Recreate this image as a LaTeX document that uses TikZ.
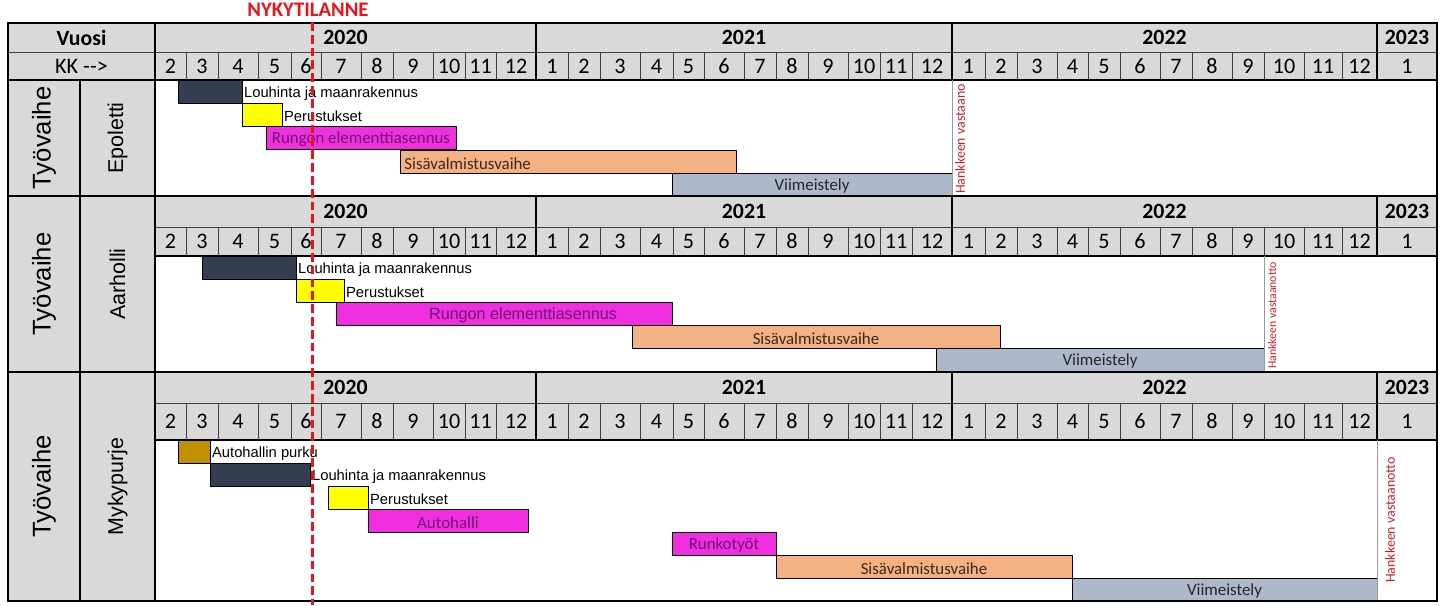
\documentclass[tikz,border=0pt]{standalone}
\usepackage{fontspec}
\setmainfont{Carlito}
\newfontfamily\arialfont{Liberation Sans}
\usetikzlibrary{positioning}
\definecolor{harmaaotsikko}{HTML}{D9D9D9}
\definecolor{tummasini}{HTML}{333F50}
\definecolor{keltainen}{HTML}{FFFF00}
\definecolor{pinkki}{HTML}{F030E0}
\definecolor{purppura}{HTML}{6E1470}
\definecolor{lohi}{HTML}{F4B183}
\definecolor{ruskea}{HTML}{3A2A1F}
\definecolor{siniharmaa}{HTML}{ADB9CA}
\definecolor{kulta}{HTML}{BF9000}
\definecolor{punainen}{HTML}{E8141C}
\definecolor{tummapunainen}{HTML}{C8202C}
\tikzset{
  kehys/.style={line width=1.4pt, black},
  ohut/.style={line width=0.5pt, black!75},
  vuosiTeksti/.style={font=\fontsize{12.4}{13}\selectfont\bfseries, inner sep=0pt},
  kkTeksti/.style={font=\fontsize{12.6}{13}\selectfont, inner sep=0pt},
  palkki/.style={draw=black, line width=0.5pt, inner sep=0pt, outer sep=0pt,
    anchor=north west, minimum height=0.46cm},
  palkkiTeksti/.style={font=\fontsize{9.6}{10}\selectfont, text=black!85, inner sep=0pt,
    yshift=-1.1pt},
  selite/.style={font=\arialfont\fontsize{8.4}{9}\selectfont, anchor=west, inner sep=0pt,
    yshift=-1.1pt},
  vaiheTeksti/.style={font=\arialfont\fontsize{14.6}{15}\selectfont, rotate=90, inner sep=0pt},
  kohdeTeksti/.style={font=\arialfont\fontsize{12.2}{13}\selectfont, rotate=90, inner sep=0pt},
  vastaanotto/.style={font=\fontsize{7.9}{8}\selectfont, text=tummapunainen, rotate=90,
    anchor=west, inner sep=0pt},
  nykyhetki/.style={punainen, line width=1.7pt, dash pattern=on 5pt off 2.3pt},
}
% kuukausisarakkeiden rajat (px)
\newcommand{\kuukaudet}{155/186/2,186/218/3,218/258/4,258/291/5,291/321/6,321/361/7,
  361/393/8,393/433/9,433/465/10,465/496/11,496/536/12,536/568/1,568/600/2,600/640/3,
  640/673/4,673/704/5,704/744/6,744/776/7,776/808/8,808/848/9,848/880/10,880/912/11,
  912/952/12,952/985/1,985/1017/2,1017/1057/3,1057/1088/4,1088/1120/5,1120/1160/6,
  1160/1192/7,1192/1232/8,1232/1264/9,1264/1304/10,1304/1342/11,1342/1377/12,1377/1437/1}
% aikajanan otsikko: #1 etuliite, #2 yla, #3 vali, #4 ala
\newcommand{\aikajana}[4]{%
  \fill[harmaaotsikko] (155,#2) rectangle (1437,#4);
  \foreach \xa/\xb/\m [count=\i] in \kuukaudet {
    \draw[ohut] (\xb,#3) -- (\xb,#4);
    \node[kkTeksti] (#1kk\i) at ({(\xa+\xb)/2},{(#3+#4)/2}) {\m};
  }
  \foreach \xa/\xb/\v in {155/536/2020, 536/952/2021, 952/1377/2022, 1377/1437/2023} {
    \node[vuosiTeksti] (#1v\v) at ({(\xa+\xb)/2},{(#2+#3)/2}) {\v};
    \draw[kehys] (\xb,#2) -- (\xb,#4);
  }
  \draw[ohut] (155,#3) -- (1437,#3);
  \draw[kehys] (155,#4) -- (1437,#4);
}
\begin{document}
\begin{tikzpicture}[x=0.02cm, y=-0.02cm]
  \useasboundingbox (0,0) rectangle (1442,605);
  \fill[white] (0,0) rectangle (1442,605);
  \fill[harmaaotsikko] (8,23) rectangle (155,601);

  \aikajana{ep}{23}{52}{80}
  \aikajana{aa}{196}{227}{256}
  \aikajana{my}{372}{403}{440}

  \node[vuosiTeksti] (vuosi) at (81.5,37.5) {Vuosi};
  \node[kkTeksti] (kk) at (81.5,66) {KK -{}->};

  \foreach \y/\nimi/\kohde in {138/ep/Epoletti, 284/aa/Aarholli, 486.5/my/Mykypurje} {
    \node[vaiheTeksti] (\nimi Vaihe) at (44,\y) {Työvaihe};
    \node[kohdeTeksti] (\nimi Kohde) at (117.5,\y) {\kohde};
  }

  % palkit
  \foreach \nimi/\xa/\xb/\ya/\vari in {
      epLouhinta/178/242/80/tummasini, epPerustus/242/282/103/keltainen,
      epRunko/266/456/126/pinkki, epSisa/400/736/150/lohi, epViim/672/952/173/siniharmaa,
      aaLouhinta/202/296/256/tummasini, aaPerustus/296/344/279/keltainen,
      aaRunko/336/672/302/pinkki, aaSisa/632/1000/325/lohi, aaViim/936/1264/348/siniharmaa,
      myPurku/178/210/440/kulta, myLouhinta/210/310/463/tummasini,
      myPerustus/328/368/486/keltainen, myAutohalli/368/528/509/pinkki,
      myRunko/672/776/532/pinkki, mySisa/776/1072/555/lohi, myViim/1072/1377/578/siniharmaa}{
    \node[palkki, fill=\vari, minimum width={(\xb-\xa)*0.02cm}] (\nimi) at (\xa,\ya) {};
  }

  % Epoletti
  \node[selite, right=1pt of epLouhinta] (epLouhintaT) {Louhinta ja maanrakennus};
  \node[selite, right=1pt of epPerustus] (epPerustusT) {Perustukset};
  \node[palkkiTeksti, text=purppura] (epRunkoT) at (epRunko) {Rungon elementtiasennus};
  \node[palkkiTeksti, text=ruskea, anchor=west] (epSisaT) at ([xshift=2.3pt]epSisa.west) {Sisävalmistusvaihe};
  \node[palkkiTeksti] (epViimT) at (epViim) {Viimeistely};
  \draw[ohut, black!40] (952,80) -- (952,196);
  \node[vastaanotto] (epVastaanotto) at (960,194) {Hankkeen vastaano};

  % Aarholli
  \node[selite, right=1pt of aaLouhinta] (aaLouhintaT) {Louhinta ja maanrakennus};
  \node[selite, right=1pt of aaPerustus] (aaPerustusT) {Perustukset};
  \node[palkkiTeksti, font=\arialfont\fontsize{9.2}{10}\selectfont, text=purppura] (aaRunkoT)
    at ([xshift=0.38cm]aaRunko.center) {Rungon elementtiasennus};
  \node[palkkiTeksti, text=ruskea] (aaSisaT) at (aaSisa) {Sisävalmistusvaihe};
  \node[palkkiTeksti] (aaViimT) at (aaViim) {Viimeistely};
  \draw[ohut, black!40] (1264,256) -- (1264,372);
  \node[vastaanotto, font=\fontsize{6.7}{7}\selectfont] (aaVastaanotto) at (1272,369) {Hankkeen vastaanotto};

  % Mykypurje
  \node[selite, right=1pt of myPurku] (myPurkuT) {Autohallin purku};
  \node[selite, right=1pt of myLouhinta] (myLouhintaT) {Louhinta ja maanrakennus};
  \node[selite, right=1pt of myPerustus] (myPerustusT) {Perustukset};
  \node[palkkiTeksti, text=purppura] (myAutohalliT) at (myAutohalli) {Autohalli};
  \node[palkkiTeksti, text=purppura] (myRunkoT) at (myRunko) {Runkotyöt};
  \node[palkkiTeksti, text=ruskea] (mySisaT) at (mySisa) {Sisävalmistusvaihe};
  \node[palkkiTeksti] (myViimT) at (myViim) {Viimeistely};
  \draw[ohut, black!40] (1377,440) -- (1377,601);
  \node[vastaanotto] (myVastaanotto) at (1390,583) {Hankkeen vastaanotto};

  % kehykset
  \draw[ohut] (8,52) -- (155,52);
  \draw[kehys] (8,80) -- (155,80);
  \draw[kehys] (80,80) -- (80,601);
  \draw[kehys] (155,23) -- (155,601);
  \draw[kehys] (8,196) -- (1437,196);
  \draw[kehys] (8,372) -- (1437,372);
  \draw[kehys] (8,23) rectangle (1437,601);

  % nykyhetki
  \node[font=\fontsize{11.8}{12}\selectfont\bfseries, text=punainen, inner sep=0pt]
    (nykytilanne) at (308,10) {NYKYTILANNE};
  \coordinate (nykyYla) at (312.5,22);
  \coordinate (nykyAla) at (312.5,605);
  \draw[nykyhetki] (nykyYla) -- (nykyAla);
\end{tikzpicture}
\end{document}
